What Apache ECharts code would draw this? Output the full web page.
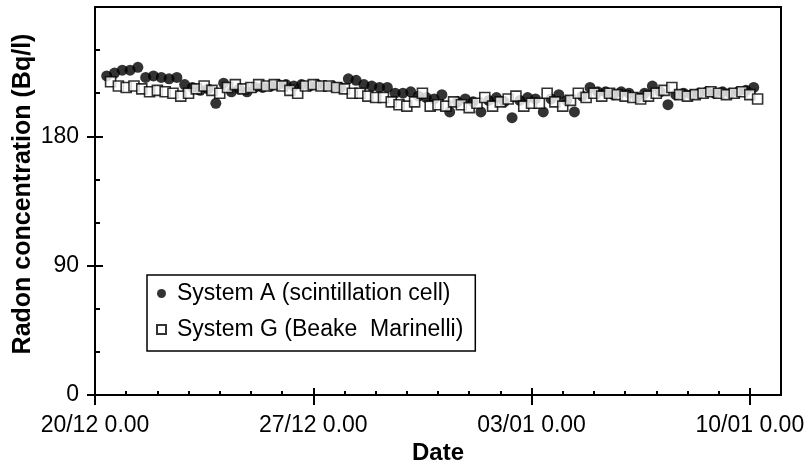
<!DOCTYPE html>
<html>
<head>
<meta charset="utf-8">
<title>Radon concentration</title>
<script src="https://cdn.jsdelivr.net/npm/echarts@6/dist/echarts.min.js"></script>
<style>
  html, body { margin: 0; padding: 0; background: #fff; }
  #chart { width: 806px; height: 466px; }
</style>
</head>
<body>
<div id="chart"></div>
<script>
// x = hours after 20/12 0.00, one reading every 6 hours
const hoursA = [9, 15, 21, 27, 33, 39, 45, 51, 57, 63, 69, 75, 81, 87, 93, 99, 105, 111, 117, 123,
  129, 135, 141, 147, 153, 159, 165, 171, 177, 183, 189, 195, 201, 207, 213, 219, 225, 231, 237, 243,
  249, 255, 261, 267, 273, 279, 285, 291, 297, 303, 309, 315, 321, 327, 333, 339, 345, 351, 357, 363,
  369, 375, 381, 387, 393, 399, 405, 411, 417, 423, 429, 435, 441, 447, 453, 459, 465, 471, 477, 483,
  489, 495, 501, 507]
const radonA = [222, 224, 226, 226, 228, 221, 222, 221, 220, 221, 216, 214, 212, 213, 203, 217, 211, 213, 211, 214,
  214, 215, 216, 216, 215, 216, 215, 216, 215, 215, 214, 220, 219, 216, 215, 214, 214, 210, 210, 211,
  208, 207, 206, 209, 197, 204, 206, 204, 197, 205, 207, 204, 193, 205, 207, 206, 197, 206, 209, 205,
  197, 208, 214, 211, 211, 209, 211, 210, 207, 210, 215, 211, 202, 209, 210, 209, 210, 211, 210, 211,
  210, 211, 212, 214]
const hoursG = [12, 18, 24, 30, 36, 42, 48, 54, 60, 66, 72, 78, 84, 90, 96, 102, 108, 114, 120, 126,
  132, 138, 144, 150, 156, 162, 168, 174, 180, 186, 192, 198, 204, 210, 216, 222, 228, 234, 240, 246,
  252, 258, 264, 270, 276, 282, 288, 294, 300, 306, 312, 318, 324, 330, 336, 342, 348, 354, 360, 366,
  372, 378, 384, 390, 396, 402, 408, 414, 420, 426, 432, 438, 444, 450, 456, 462, 468, 474, 480, 486,
  492, 498, 504, 510]
const radonG = [218, 215, 214, 215, 213, 211, 212, 211, 210, 208, 210, 213, 215, 212, 210, 214, 216, 213, 214, 216,
  215, 216, 215, 212, 210, 215, 216, 215, 215, 214, 213, 210, 210, 208, 207, 207, 204, 202, 201, 204,
  210, 201, 202, 201, 204, 202, 200, 203, 207, 201, 204, 206, 208, 201, 203, 203, 210, 204, 201, 205,
  210, 207, 210, 208, 210, 209, 208, 207, 206, 208, 210, 212, 214, 209, 208, 209, 210, 211, 210, 209,
  210, 211, 209, 206]
const dateTicks = [0, 168, 336, 504]
const dateLabels = ['20/12 0.00', '27/12 0.00', '03/01 0.00', '10/01 0.00']
const radonTicks = [0, 90, 180]
const radonMinor = [30, 60, 120, 150, 210, 240]

const font = 'Liberation Sans, Arial, sans-serif'
const black = '#000'

// one small tick every day, except where the big ones are
const dayTicks = []
for (let h = 24; h < 528; h += 24) {
  if (h % 168 !== 0) dayTicks.push(h)
}

function tickAxis (kind, values, inside, length) {
  return {
    type: 'value',
    min: 0,
    max: kind === 'x' ? 528 : 270,
    position: kind === 'x' ? 'bottom' : 'left',
    axisLine: { show: false },
    axisTick: { inside: inside, customValues: values, length: length, lineStyle: { color: black, width: 2 } },
    axisLabel: { show: false },
    splitLine: { show: false }
  }
}

const myChart = echarts.init(document.getElementById('chart'))
const option = {
  animation: false,
  backgroundColor: '#fff',
  grid: {
    left: 95,
    right: 25,
    top: 7,
    bottom: 71,
    outerBoundsMode: 'none',
    show: true,
    borderColor: black,
    borderWidth: 2
  },
  legend: {
    orient: 'vertical',
    left: 147,
    top: 275,
    itemWidth: 9,
    itemHeight: 9,
    itemGap: 13,
    padding: [7, 12, 10, 9],
    borderColor: black,
    borderWidth: 1.5,
    selectedMode: false,
    textStyle: { fontSize: 23, color: black, fontFamily: font, padding: [0, 0, 0, 6] },
    data: [
      { name: 'System A (scintillation cell)', icon: 'circle' },
      { name: 'System G (Beake  Marinelli)', icon: 'rect' }
    ]
  },
  xAxis: [
    {
      type: 'value',
      min: 0,
      max: 528,
      position: 'bottom',
      name: 'Date',
      nameLocation: 'middle',
      nameGap: 46,
      nameMoveOverlap: false,
      nameTextStyle: { fontSize: 24, fontWeight: 'bold', color: black, fontFamily: font },
      axisLine: { lineStyle: { color: black, width: 2 } },
      axisTick: { customValues: dateTicks, length: 10, lineStyle: { color: black, width: 2 } },
      axisLabel: {
        customValues: dateTicks,
        formatter: (v) => dateLabels[dateTicks.indexOf(v)],
        margin: 19,
        fontSize: 23,
        color: black,
        fontFamily: font
      },
      splitLine: { show: false }
    },
    tickAxis('x', dateTicks, true, 7),
    tickAxis('x', dayTicks, true, 4)
  ],
  yAxis: [
    {
      type: 'value',
      min: 0,
      max: 270,
      position: 'left',
      name: 'Radon concentration (Bq/l)',
      nameLocation: 'middle',
      nameGap: 59,
      nameMoveOverlap: false,
      nameTextStyle: { fontSize: 25, fontWeight: 'bold', color: black, fontFamily: font, padding: [0, 0, 0, 14] },
      axisLine: { lineStyle: { color: black, width: 2 } },
      axisTick: { customValues: radonTicks, length: 8, lineStyle: { color: black, width: 2 } },
      axisLabel: { customValues: radonTicks, margin: 16, fontSize: 23, color: black, fontFamily: font },
      splitLine: { show: false }
    },
    tickAxis('y', radonTicks, true, 8),
    tickAxis('y', radonMinor, true, 5)
  ],
  series: [
    {
      name: 'System A (scintillation cell)',
      type: 'scatter',
      symbol: 'circle',
      symbolSize: 11,
      itemStyle: { color: black },
      emphasis: { disabled: true },
      data: hoursA.map((h, i) => [h, radonA[i]])
    },
    {
      name: 'System G (Beake  Marinelli)',
      type: 'scatter',
      symbol: 'rect',
      symbolSize: 10,
      itemStyle: { color: '#fff', borderColor: black, borderWidth: 1.6 },
      emphasis: { disabled: true },
      data: hoursG.map((h, i) => [h, radonG[i]])
    }
  ]
}
myChart.setOption(option)
</script>
</body>
</html>
